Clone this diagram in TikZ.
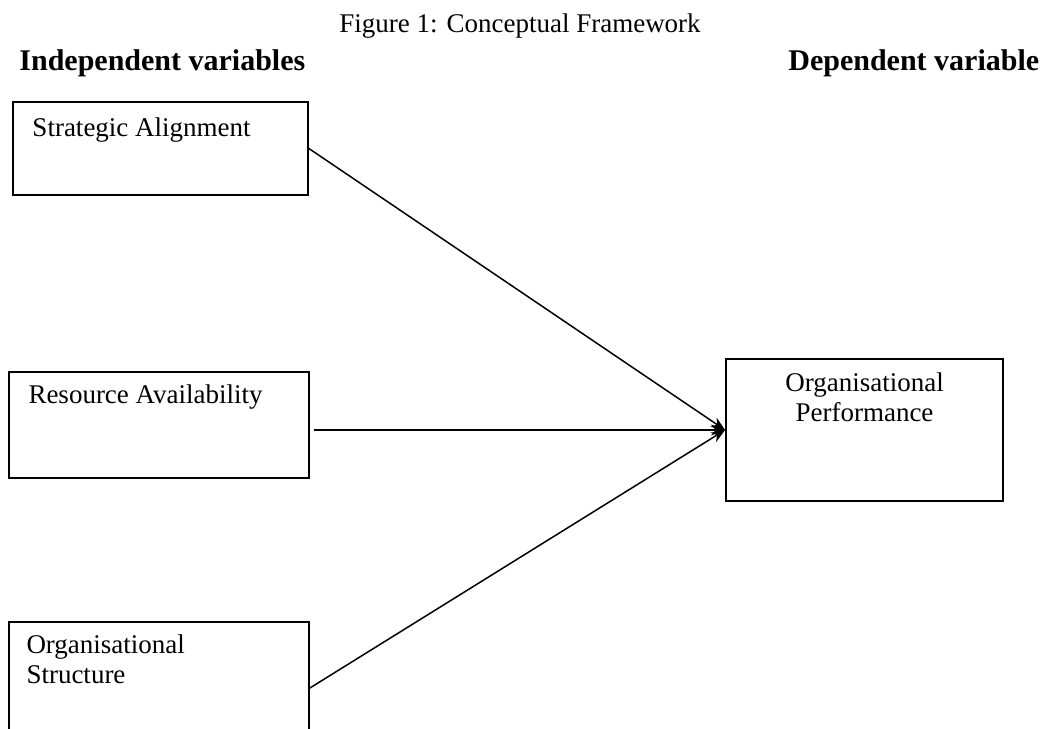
\documentclass[tikz,border=0pt]{standalone}
\usepackage{fontspec}
\setmainfont{Liberation Serif}
\usetikzlibrary{positioning,arrows.meta}

\begin{document}
\begin{tikzpicture}[x=0.5pt,y=-0.5pt,
  varbox/.style={draw,line width=0.9pt,inner sep=0pt},
  boxtext/.style={inner sep=0pt,font=\fontsize{13.5}{15}\selectfont,align=left},
  heading/.style={inner sep=0pt,anchor=base west,font=\fontsize{15}{18}\selectfont\bfseries},
  link/.style={line width=0.75pt,-{Stealth[length=7pt,width=5.5pt]}}]
\useasboundingbox (0,0) rectangle (1040,729);
\clip (0,0) rectangle (1040,729);
% caption and headings
\node[inner sep=0pt,anchor=base,font=\fontsize{13.5}{16}\selectfont] (caption) at (520,32) {Figure 1: Conceptual Framework};
\node[heading] (indep) at (19,70) {Independent variables};
\node[heading] (dep) at (788,70) {Dependent variable};
% independent variables
\node[varbox,minimum width=147.5pt,minimum height=46.5pt] (sa) at (160.5,148.5) {};
\node[boxtext,below right=8pt and 10pt of sa.north west] (satxt) {Strategic Alignment};
\node[varbox,minimum width=150pt,minimum height=53pt] (ra) at (159,425) {};
\node[boxtext,below right=6.5pt and 10pt of ra.north west] (ratxt) {Resource Availability};
\node[varbox,minimum width=150pt,minimum height=66pt] (os) at (159,688) {};
\node[boxtext,below right=6.5pt and 9pt of os.north west] (ostxt) {Organisational\\Structure};
% dependent variable
\node[varbox,minimum width=138.5pt,minimum height=71pt] (op) at (864.5,430) {};
\node[boxtext,align=center,below=7pt of op.north] (optxt) {Organisational\\Performance};
% links
\draw[link] (sa.east) -- (op.west);
\draw[link,shorten <=2pt] (ra.east |- op.west) -- (op.west);
\draw[link] (os.east) -- (op.west);
\end{tikzpicture}
\end{document}
